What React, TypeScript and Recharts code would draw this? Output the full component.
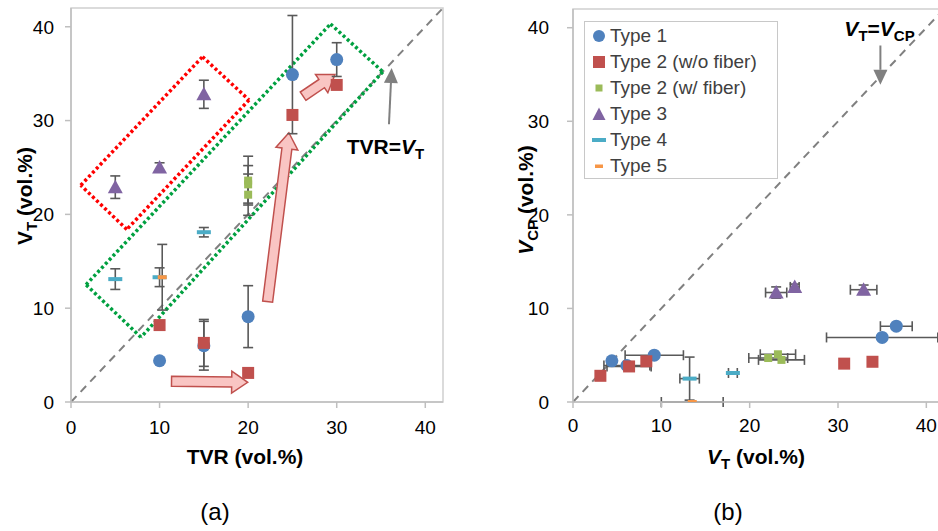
import React from "react";
import {
  ScatterChart,
  Scatter,
  XAxis,
  YAxis,
  ErrorBar,
  ReferenceLine,
  ReferenceDot,
  ReferenceArea,
  Legend,
  Label,
} from "recharts";

// ---- panel (a): TVR vs V_T ----
const type1A = [
  { x: 10, y: 4.4 },
  { x: 15, y: 6.0, ey: 2.6 },
  { x: 20, y: 9.1, ey: 3.3 },
  { x: 25, y: 34.9, ey: 6.3 },
  { x: 30, y: 36.5, ey: 1.8 },
];
const type2A = [
  { x: 10, y: 8.2 },
  { x: 15, y: 6.3, ey: 2.5 },
  { x: 20, y: 3.1 },
  { x: 25, y: 30.6 },
  { x: 30, y: 33.8 },
];
const type2fA = [
  { x: 20, y: 23.6, ey: 2.6 },
  { x: 20, y: 23.2, ey: 2.0 },
  { x: 20, y: 22.1, ey: 2.2 },
];
const type3A = [
  { x: 5, y: 22.9, ey: 1.2 },
  { x: 10, y: 25.0, ey: 0.5 },
  { x: 15, y: 32.8, ey: 1.5 },
];
const type4A = [
  { x: 5, y: 13.1, ey: 1.1 },
  { x: 10, y: 13.3, ey: 1.0 },
  { x: 15, y: 18.1, ey: 0.5 },
];
const type5A = [{ x: 10.3, y: 13.3, ey: 3.5 }];

// ---- panel (b): V_T vs V_CP ----
const type1B = [
  { x: 4.4, y: 4.4 },
  { x: 6.1, y: 3.9, ex: 2.6 },
  { x: 9.2, y: 5.0, ex: 3.3 },
  { x: 35.0, y: 6.9, ex: 6.3 },
  { x: 36.6, y: 8.1, ex: 1.8 },
];
const type2B = [
  { x: 3.1, y: 2.8 },
  { x: 6.35, y: 3.8, ex: 2.5 },
  { x: 8.3, y: 4.35 },
  { x: 30.7, y: 4.1 },
  { x: 33.9, y: 4.3 },
];
const type2fB = [
  { x: 22.1, y: 4.7, ex: 2.2 },
  { x: 23.2, y: 5.1, ex: 2.0 },
  { x: 23.6, y: 4.5, ex: 2.6 },
];
const type3B = [
  { x: 23.0, y: 11.7, ex: 1.2, ey: 0.6 },
  { x: 25.1, y: 12.3, ex: 0.5, ey: 0.3 },
  { x: 32.9, y: 12.0, ex: 1.5, ey: 0.5 },
];
const type4B = [
  { x: 13.2, y: 2.5, ex: 1.1, ey: 2.3 },
  { x: 18.1, y: 3.1, ex: 0.5 },
];
const type5B = [{ x: 13.5, y: 0, ex: 3.5 }];

const ticks = [0, 10, 20, 30, 40];
const seriesNames = ["Type 1", "Type 2 (w/o fiber)", "Type 2 (w/ fiber)", "Type 3", "Type 4", "Type 5"];

// annotations (data coordinates)
const diagonal = [{ x: 0, y: 0 }, { x: 42, y: 42 }];
const redBox = [{ x: 1.1, y: 23.1 }, { x: 14.85, y: 36.8 }, { x: 20.1, y: 32.2 }, { x: 6.3, y: 18.4 }];
const greenBox = [{ x: 1.7, y: 12.5 }, { x: 29.3, y: 40.3 }, { x: 35.2, y: 35.2 }, { x: 7.9, y: 6.9 }];
const pinkArrows = [
  [{ x: 11.35, y: 2.2 }, { x: 19.95, y: 2.1 }],
  [{ x: 22.2, y: 10.7 }, { x: 24.6, y: 28.7 }],
  [{ x: 26.2, y: 32.6 }, { x: 29.8, y: 34.9 }],
];
const grayArrowA = [{ x: 35.9, y: 29.6 }, { x: 36.2, y: 35.6 }];
const grayArrowB = [{ x: 34.8, y: 38.1 }, { x: 34.8, y: 33.9 }];

const COLORS = {
  t1: "#4f81bd",
  t2: "#c0504d",
  t2f: "#9bbb59",
  t3: "#8064a2",
  t4: "#4bacc6",
  t5: "#f79646",
};
const FONT = '"Liberation Sans", Arial, sans-serif';
const AXIS = "#bfbfbf";
const ERR = "#595959";

const circle = (p: any) => <circle cx={p.cx} cy={p.cy} r={6.5} fill={COLORS.t1} />;
const square = (p: any) => <rect x={p.cx - 6} y={p.cy - 6} width={12} height={12} fill={COLORS.t2} />;
const smallSquare = (p: any) => <rect x={p.cx - 4} y={p.cy - 4} width={8} height={8} fill={COLORS.t2f} />;
const triangle = (p: any) => (
  <polygon
    points={`${p.cx},${p.cy - 7.5} ${p.cx + 7.5},${p.cy + 6} ${p.cx - 7.5},${p.cy + 6}`}
    fill={COLORS.t3}
  />
);
const dash4 = (p: any) => <rect x={p.cx - 7} y={p.cy - 2} width={14} height={4} fill={COLORS.t4} />;
const dash5 = (p: any) => <rect x={p.cx - 4.5} y={p.cy - 2} width={9} height={4} fill={COLORS.t5} />;

function fatArrow(props: any) {
  const { x1, y1, x2, y2 } = props;
  const dx = x2 - x1;
  const dy = y2 - y1;
  const len = Math.hypot(dx, dy) || 1;
  const ux = dx / len;
  const uy = dy / len;
  const nx = -uy;
  const ny = ux;
  const sw = 5;
  const hw = 11;
  const hl = 16;
  const bx = x2 - ux * hl;
  const by = y2 - uy * hl;
  const pts = [
    [x1 + nx * sw, y1 + ny * sw],
    [bx + nx * sw, by + ny * sw],
    [bx + nx * hw, by + ny * hw],
    [x2, y2],
    [bx - nx * hw, by - ny * hw],
    [bx - nx * sw, by - ny * sw],
    [x1 - nx * sw, y1 - ny * sw],
  ];
  return (
    <polygon
      points={pts.map((q) => q.join(",")).join(" ")}
      fill="#f9c5c3"
      stroke="#c0504d"
      strokeWidth={1.5}
      strokeLinejoin="miter"
    />
  );
}

function grayArrow(props: any) {
  const { x1, y1, x2, y2 } = props;
  const dx = x2 - x1;
  const dy = y2 - y1;
  const len = Math.hypot(dx, dy) || 1;
  const ux = dx / len;
  const uy = dy / len;
  const hl = 15;
  const hw = 7;
  const bx = x2 - ux * hl;
  const by = y2 - uy * hl;
  return (
    <g>
      <line x1={x1} y1={y1} x2={bx} y2={by} stroke="#808080" strokeWidth={2} />
      <polygon
        points={`${x2},${y2} ${bx - uy * hw},${by + ux * hw} ${bx + uy * hw},${by - ux * hw}`}
        fill="#808080"
      />
    </g>
  );
}

const dottedSegments = (pts: { x: number; y: number }[]) =>
  pts.map((p, i) => [p, pts[(i + 1) % pts.length]]);

const errProps = { stroke: ERR, strokeWidth: 1.6, width: 5, isAnimationActive: false } as any;

function legendContent() {
  const icons = [
    <circle cx={8} cy={8} r={6} fill={COLORS.t1} />,
    <rect x={2} y={2} width={12} height={12} fill={COLORS.t2} />,
    <rect x={4.5} y={4.5} width={7} height={7} fill={COLORS.t2f} />,
    <polygon points="8,1.5 14.5,14 1.5,14" fill={COLORS.t3} />,
    <rect x={1} y={6} width={14} height={4} fill={COLORS.t4} />,
    <rect x={4} y={6.5} width={8} height={3.5} fill={COLORS.t5} />,
  ];
  return (
    <div
      style={{
        width: 194,
        height: 158,
        boxSizing: "border-box",
        border: "1.5px solid #c8c8c8",
        background: "#fff",
        paddingTop: 1,
        fontFamily: FONT,
      }}
    >
      {seriesNames.map((n, i) => (
        <div key={n} style={{ display: "flex", alignItems: "center", height: 26, paddingLeft: 6 }}>
          <svg width={16} height={16} style={{ marginRight: 3 }}>
            {icons[i]}
          </svg>
          <span style={{ fontSize: 19, color: "#404040", lineHeight: "26px" }}>{n}</span>
        </div>
      ))}
    </div>
  );
}

const xTitleA = () => (
  <g fontFamily={FONT} fill="#000">
    <text x={245} y={464} textAnchor="middle" fontWeight="bold" fontSize={21}>
      TVR (vol.%)
    </text>
    <text x={215} y={520} textAnchor="middle" fontSize={24}>
      (a)
    </text>
  </g>
);
const yTitleA = () => (
  <text
    x={32}
    y={196}
    transform="rotate(-90 32 196)"
    textAnchor="middle"
    fontWeight="bold"
    fontSize={21}
    fontFamily={FONT}
    fill="#000"
  >
    <tspan>V</tspan>
    <tspan dy={5} fontSize={15}>T</tspan>
    <tspan dy={-5}> (vol.%)</tspan>
  </text>
);
const xTitleB = () => (
  <g fontFamily={FONT} fill="#000">
    <text x={286} y={464} textAnchor="middle" fontWeight="bold" fontSize={21}>
      <tspan fontStyle="italic">V</tspan>
      <tspan dy={5} fontSize={15}>T</tspan>
      <tspan dy={-5}> (vol.%)</tspan>
    </text>
    <text x={258} y={520} textAnchor="middle" fontSize={24}>
      (b)
    </text>
  </g>
);
const yTitleB = () => (
  <text
    x={63}
    y={200}
    transform="rotate(-90 63 200)"
    textAnchor="middle"
    fontWeight="bold"
    fontSize={21}
    fontFamily={FONT}
    fill="#000"
  >
    <tspan fontStyle="italic">V</tspan>
    <tspan dy={5} fontSize={15}>CP</tspan>
    <tspan dy={-5}> (vol.%)</tspan>
  </text>
);

const labelA = (p: any) => (
  <text x={p.cx} y={p.cy} textAnchor="middle" fontWeight="bold" fontSize={21} fontFamily={FONT} fill="#000">
    <tspan>TVR=</tspan>
    <tspan fontStyle="italic">V</tspan>
    <tspan dy={5} fontSize={15}>T</tspan>
  </text>
);
const labelB = (p: any) => (
  <text x={p.cx} y={p.cy} textAnchor="middle" fontWeight="bold" fontSize={21} fontFamily={FONT} fill="#000">
    <tspan fontStyle="italic">V</tspan>
    <tspan dy={5} fontSize={15}>T</tspan>
    <tspan dy={-5}>=</tspan>
    <tspan fontStyle="italic">V</tspan>
    <tspan dy={5} fontSize={15}>CP</tspan>
  </text>
);

const tickStyle = { fill: "#000", fontSize: 19, fontFamily: FONT };

export default function App() {
  return (
    <div
      style={{
        position: "absolute",
        left: 0,
        top: 0,
        width: 938,
        height: 531,
        overflow: "hidden",
        background: "#fff",
        fontFamily: FONT,
      }}
    >
      {/* panel (a) */}
      <div style={{ position: "absolute", left: 0, top: 0 }}>
        <ScatterChart width={470} height={531} margin={{ top: 8, right: 27, left: 0, bottom: 0 }}>
          <XAxis
            type="number"
            dataKey="x"
            domain={[0, 42]}
            ticks={ticks}
            allowDataOverflow
            height={129}
            stroke={AXIS}
            strokeWidth={1.5}
            tickSize={6}
            tickMargin={13}
            tick={tickStyle}
          >
            <Label content={xTitleA} />
          </XAxis>
          <YAxis
            type="number"
            dataKey="y"
            domain={[0, 42]}
            ticks={ticks}
            allowDataOverflow
            width={71}
            stroke={AXIS}
            strokeWidth={1.5}
            tickSize={6}
            tickMargin={11}
            tick={tickStyle}
          >
            <Label content={yTitleA} />
          </YAxis>
          <ReferenceArea x1={0} x2={42} y1={0} y2={42} fill="none" stroke="#d0d0d0" strokeWidth={1.5} />
          <ReferenceLine segment={diagonal} stroke="#808080" strokeWidth={2} strokeDasharray="8 6" />
          {dottedSegments(redBox).map((s, i) => (
            <ReferenceLine key={`r${i}`} segment={s} stroke="#ff0000" strokeWidth={3.5} strokeDasharray="3 2.6" />
          ))}
          {dottedSegments(greenBox).map((s, i) => (
            <ReferenceLine key={`g${i}`} segment={s} stroke="#00a040" strokeWidth={3.5} strokeDasharray="3 2.6" />
          ))}
          {pinkArrows.map((s, i) => (
            <ReferenceLine key={`p${i}`} segment={s} shape={fatArrow} />
          ))}
          <ReferenceLine segment={grayArrowA} shape={grayArrow} />
          <ReferenceDot x={35.5} y={26.4} r={0} shape={labelA} />

          <Scatter name={seriesNames[0]} data={type1A} shape={circle} isAnimationActive={false}>
            <ErrorBar dataKey="ey" direction="y" {...errProps} />
          </Scatter>
          <Scatter name={seriesNames[1]} data={type2A} shape={square} isAnimationActive={false}>
            <ErrorBar dataKey="ey" direction="y" {...errProps} />
          </Scatter>
          <Scatter name={seriesNames[2]} data={type2fA} shape={smallSquare} isAnimationActive={false}>
            <ErrorBar dataKey="ey" direction="y" {...errProps} />
          </Scatter>
          <Scatter name={seriesNames[3]} data={type3A} shape={triangle} isAnimationActive={false}>
            <ErrorBar dataKey="ey" direction="y" {...errProps} />
          </Scatter>
          <Scatter name={seriesNames[4]} data={type4A} shape={dash4} isAnimationActive={false}>
            <ErrorBar dataKey="ey" direction="y" {...errProps} />
          </Scatter>
          <Scatter name={seriesNames[5]} data={type5A} shape={dash5} isAnimationActive={false}>
            <ErrorBar dataKey="ey" direction="y" {...errProps} />
          </Scatter>
        </ScatterChart>
      </div>

      {/* panel (b) */}
      <div style={{ position: "absolute", left: 470, top: 0 }}>
        <ScatterChart width={480} height={531} margin={{ top: 9, right: 6, left: 0, bottom: 0 }}>
          <XAxis
            type="number"
            dataKey="x"
            domain={[0, 42]}
            ticks={ticks}
            allowDataOverflow
            height={129}
            stroke={AXIS}
            strokeWidth={1.5}
            tickSize={6}
            tickMargin={11}
            tick={tickStyle}
          >
            <Label content={xTitleB} />
          </XAxis>
          <YAxis
            type="number"
            dataKey="y"
            domain={[0, 42]}
            ticks={ticks}
            allowDataOverflow
            width={103}
            stroke={AXIS}
            strokeWidth={1.5}
            tickSize={6}
            tickMargin={18}
            tick={tickStyle}
          >
            <Label content={yTitleB} />
          </YAxis>
          <ReferenceArea x1={0} x2={42} y1={0} y2={42} fill="none" stroke="#d0d0d0" strokeWidth={1.5} />
          <ReferenceLine segment={diagonal} stroke="#808080" strokeWidth={2} strokeDasharray="8 6" />
          <ReferenceLine segment={grayArrowB} shape={grayArrow} />
          <ReferenceDot x={34.7} y={39.1} r={0} shape={labelB} />
          <Legend
            layout="horizontal"
            verticalAlign="middle"
            align="center"
            content={legendContent}
            wrapperStyle={{ position: "absolute", left: 114, top: 21, width: 194, height: 158 }}
          />

          <Scatter name={seriesNames[0]} data={type1B} shape={circle} isAnimationActive={false}>
            <ErrorBar dataKey="ex" direction="x" {...errProps} />
          </Scatter>
          <Scatter name={seriesNames[1]} data={type2B} shape={square} isAnimationActive={false}>
            <ErrorBar dataKey="ex" direction="x" {...errProps} />
          </Scatter>
          <Scatter name={seriesNames[2]} data={type2fB} shape={smallSquare} isAnimationActive={false}>
            <ErrorBar dataKey="ex" direction="x" {...errProps} />
          </Scatter>
          <Scatter name={seriesNames[3]} data={type3B} shape={triangle} isAnimationActive={false}>
            <ErrorBar dataKey="ex" direction="x" {...errProps} />
            <ErrorBar dataKey="ey" direction="y" {...errProps} />
          </Scatter>
          <Scatter name={seriesNames[4]} data={type4B} shape={dash4} isAnimationActive={false}>
            <ErrorBar dataKey="ex" direction="x" {...errProps} />
            <ErrorBar dataKey="ey" direction="y" {...errProps} />
          </Scatter>
          <Scatter name={seriesNames[5]} data={type5B} shape={dash5} isAnimationActive={false}>
            <ErrorBar dataKey="ex" direction="x" {...errProps} />
          </Scatter>
        </ScatterChart>
      </div>
    </div>
  );
}
